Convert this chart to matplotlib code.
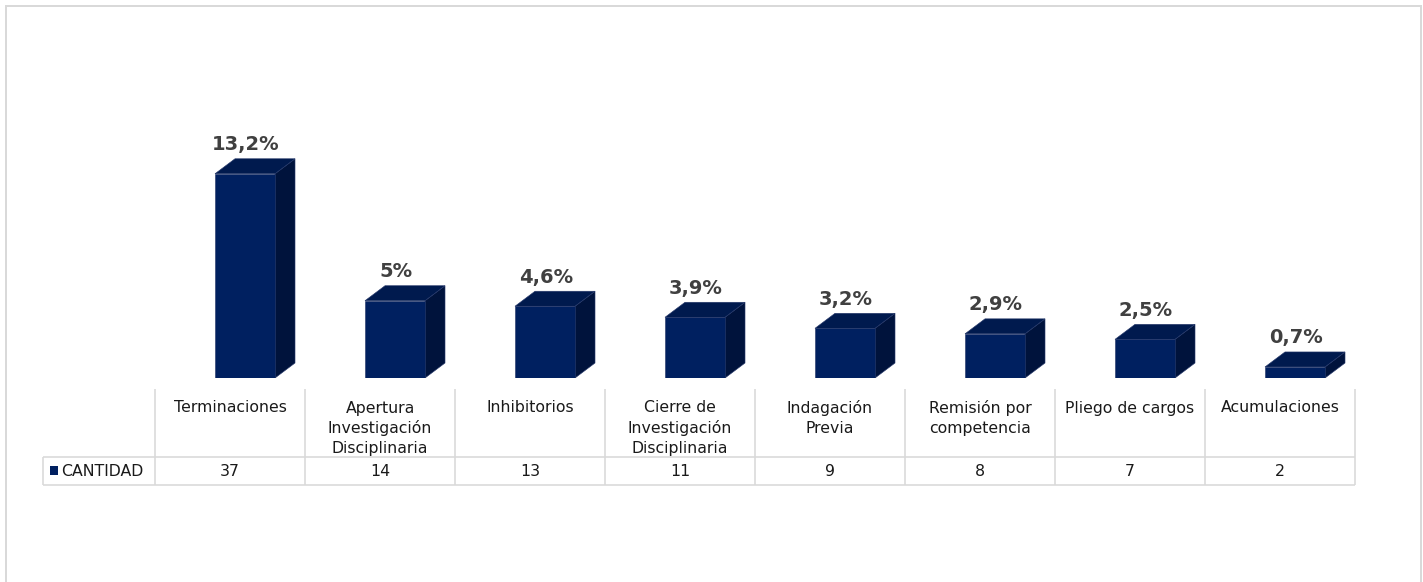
import matplotlib
matplotlib.use("Agg")
import matplotlib.pyplot as plt
from matplotlib.patches import Polygon, Rectangle

categories = ["Terminaciones", "Apertura\nInvestigación\nDisciplinaria", "Inhibitorios",
              "Cierre de\nInvestigación\nDisciplinaria", "Indagación\nPrevia",
              "Remisión por\ncompetencia", "Pliego de cargos", "Acumulaciones"]
cantidad = [37, 14, 13, 11, 9, 8, 7, 2]
pct_labels = ["13,2%", "5%", "4,6%", "3,9%", "3,2%", "2,9%", "2,5%", "0,7%"]
series_name = "CANTIDAD"

W, H, DPI = 1423, 582, 72
fig = plt.figure(figsize=(W / DPI, H / DPI), dpi=DPI)
fig.patch.set_facecolor("white")

FRONT = "#002060"
SIDE = "#00133c"
TOP = "#001a4e"
EDGE = "#26386a"
GRID = "#d9d9d9"

# pixel helpers
def fx(px):
    return px / W

def fy(py):
    return 1 - py / H

# outer border
fig.add_artist(Rectangle((fx(6), fy(600)), fx(1421) - fx(6), fy(6) - fy(600),
                         transform=fig.transFigure, fill=False, edgecolor=GRID, lw=2))

# bar axes
px_per_unit = 5.52
base_py = 378
top_py = 20
ax = fig.add_axes([fx(155), fy(base_py), fx(1355) - fx(155), (base_py - top_py) / H])
ax.set_xlim(-0.5, len(categories) - 0.5)
ax.set_ylim(0, (base_py - top_py) / px_per_unit)
ax.axis("off")

dx = 20 / 150
dy = 15 / px_per_unit
x0_off, x1_off = -0.1, 0.3
for i, v in enumerate(cantidad):
    l, r = i + x0_off, i + x1_off
    front = Polygon([(l, 0), (r, 0), (r, v), (l, v)], closed=True, facecolor=FRONT,
                    edgecolor=EDGE, lw=0.6)
    side = Polygon([(r, 0), (r + dx, dy), (r + dx, v + dy), (r, v)], closed=True,
                   facecolor=SIDE, edgecolor=EDGE, lw=0.6)
    top = Polygon([(l, v), (r, v), (r + dx, v + dy), (l + dx, v + dy)], closed=True,
                  facecolor=TOP, edgecolor=EDGE, lw=0.6)
    for p in (side, top, front):
        ax.add_patch(p)
    ax.annotate(pct_labels[i], xy=((l + r) / 2, v + dy), xytext=(1, 14),
                textcoords="offset points", ha="center", va="center",
                fontsize=19.5, fontweight="bold", color="#404040")

# table axes (same x scale), y in pixel units
t_top, t_mid, t_bot = 389, 457, 485
tax = fig.add_axes([fx(155), fy(t_bot), fx(1355) - fx(155), (t_bot - t_top) / H])
tax.set_xlim(-0.5, len(categories) - 0.5)
tax.set_ylim(t_bot, t_top)
tax.axis("off")

left_x = -0.5 - (155 - 43) / 150
n = len(categories)
for k in range(n + 1):
    tax.plot([k - 0.5, k - 0.5], [t_top, t_bot], color=GRID, lw=1.6, clip_on=False,
             solid_capstyle="butt")
tax.plot([left_x, left_x], [t_mid, t_bot], color=GRID, lw=1.6, clip_on=False,
         solid_capstyle="butt")
for yy in (t_mid, t_bot):
    tax.plot([left_x, n - 0.5], [yy, yy], color=GRID, lw=1.6, clip_on=False,
             solid_capstyle="butt")

for i, (c, v) in enumerate(zip(categories, cantidad)):
    tax.text(i, 400.5, c, ha="center", va="top", fontsize=15.8, color="#1a1a1a",
             linespacing=1.36)
    tax.text(i, 471, str(v), ha="center", va="center", fontsize=15.8, color="#1a1a1a")

# legend key in the table
sq = (58 - 50) / 150
sx = -0.5 - (155 - 50) / 150
tax.add_patch(Rectangle((sx, 466), sq, 9, facecolor=FRONT, edgecolor="none", clip_on=False))
tax.text(-0.5 - (155 - 61) / 150, 471, series_name, ha="left", va="center", fontsize=15.8,
         color="#1a1a1a")

fig.savefig("out.png", dpi=DPI, facecolor="white")
